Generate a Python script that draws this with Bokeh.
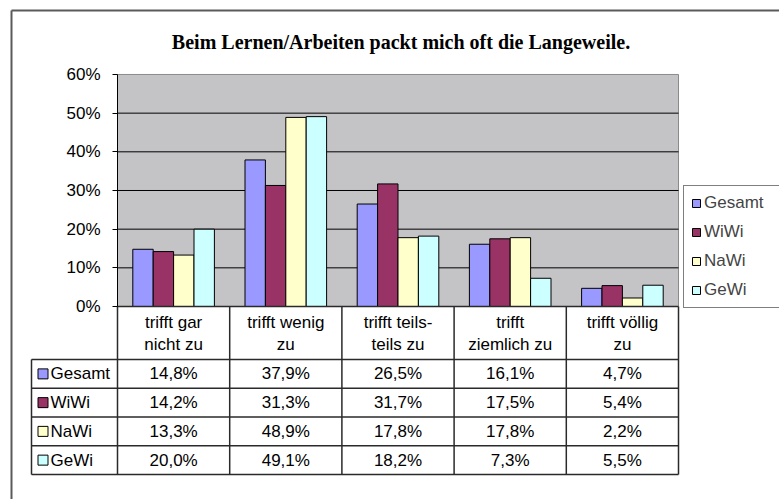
import numpy as np
from bokeh.plotting import figure
from bokeh.models import (Range1d, FixedTicker, PrintfTickFormatter, Label,
                          Legend, LegendItem)
from bokeh.core.properties import value
from bokeh.embed import file_html
from bokeh.resources import INLINE

# ---------------- data ----------------
title_text = "Beim Lernen/Arbeiten packt mich oft die Langeweile."
categories = ["trifft gar\nnicht zu", "trifft wenig\nzu", "trifft teils-\nteils zu",
              "trifft\nziemlich zu", "trifft völlig\nzu"]
series_names = ["Gesamt", "WiWi", "NaWi", "GeWi"]
gesamt = [14.8, 37.9, 26.5, 16.1, 4.7]
wiwi = [14.2, 31.3, 31.7, 17.5, 5.4]
nawi = [13.3, 48.9, 17.8, 17.8, 2.2]
gewi = [20.0, 49.1, 18.2, 7.3, 5.5]
y_ticks = [0, 10, 20, 30, 40, 50, 60]

series_values = [gesamt, wiwi, nawi, gewi]
colors = ["#9999FF", "#993366", "#FFFFCC", "#CCFFFF"]

# ---------------- layout helpers (screen px -> data) ----------------
W, H = 779, 499
PX = 112.2          # px per category
CX0 = 173.1         # screen x of first category centre
PY = 3.867          # px per percent
SY0 = 306.0         # screen y of 0 %


def X(sx):
    return (sx - CX0) / PX


def Y(sy):
    return (SY0 - sy) / PY


FONT = "Liberation Sans"
FS = "17px"
n = len(categories)
idx = np.arange(n)

p = figure(width=W, height=H, x_range=Range1d(X(0), X(W)),
           y_range=Range1d(Y(H), Y(0)),
           output_backend="svg", toolbar_location=None, min_border=0,
           x_axis_location=None, y_axis_location="left",
           outline_line_color=None, background_fill_color="white",
           border_fill_color="white")
p.grid.visible = False

# outer chart frame (top and left edges)
frame_col = "#5a5a5a"
p.segment(x0=[X(11), X(11)], y0=[Y(10), Y(10)], x1=[X(W), X(11)],
          y1=[Y(10), Y(H)], line_color=frame_col, line_width=2)

# plot area
x_lo, x_hi = -0.5, n - 0.5
p.quad(left=x_lo, right=x_hi, bottom=y_ticks[0], top=y_ticks[-1],
       fill_color="#C4C3C6", line_color="#8a8a8a", line_width=1)
p.segment(x0=x_lo, x1=x_hi, y0=y_ticks[1:-1], y1=y_ticks[1:-1],
          line_color="black", line_width=1)

# bars
bar_w = 20.4 / PX
renderers = []
for j, (name, vals) in enumerate(zip(series_names, series_values)):
    r = p.vbar(x=idx + (j - 1.5) * bar_w, top=vals, bottom=0, width=bar_w,
               fill_color=colors[j], line_color="black", line_width=1)
    renderers.append(r)

# y axis
ax = p.yaxis[0]
ax.fixed_location = x_lo
ax.bounds = (y_ticks[0], y_ticks[-1])
ax.ticker = FixedTicker(ticks=y_ticks)
ax.formatter = PrintfTickFormatter(format="%d%%")
ax.major_tick_out = 5
ax.major_tick_in = 0
ax.minor_tick_out = 0
ax.minor_tick_in = 0
ax.axis_line_color = "black"
ax.major_tick_line_color = "black"
ax.major_label_text_font = FONT
ax.major_label_text_font_size = FS
ax.major_label_text_color = "black"
ax.major_label_standoff = 12

# ---------------- data table ----------------
tbl_col = "#2a2a2a"
head_bottom = 359.0
row_h = 28.75
row_edges = [head_bottom + row_h * k for k in range(len(series_names) + 1)]
tbl_left = 31.0
# horizontal lines
p.segment(x0=x_lo, x1=x_hi, y0=0, y1=0, line_color=tbl_col, line_width=1.5)
p.segment(x0=X(tbl_left), x1=x_hi, y0=[Y(e) for e in row_edges],
          y1=[Y(e) for e in row_edges], line_color=tbl_col, line_width=1.5)
# vertical lines
vx = [x_lo + k for k in range(n + 1)]
p.segment(x0=vx, x1=vx, y0=0, y1=Y(row_edges[-1]), line_color=tbl_col, line_width=1.5)
p.segment(x0=X(tbl_left), x1=X(tbl_left), y0=Y(row_edges[0]), y1=Y(row_edges[-1]),
          line_color=tbl_col, line_width=1.5)

# header texts
p.text(x=idx, y=Y((SY0 + head_bottom) / 2 + 0.5), text=categories,
       text_align="center", text_baseline="middle", text_font=value(FONT),
       text_font_size=FS, text_color="black", text_line_height=1.15)

# rows
for k, (name, vals) in enumerate(zip(series_names, series_values)):
    cy = Y(head_bottom + row_h * (k + 0.5))
    p.scatter(x=[X(42.5)], y=[cy], marker="square", size=10,
              fill_color=colors[k], line_color="black", line_width=1)
    p.text(x=[X(50)], y=[cy], text=[name], text_align="left",
           text_baseline="middle", text_font=value(FONT), text_font_size=FS,
           text_color="black")
    labels = [f"{v:.1f}%".replace(".", ",") for v in vals]
    p.text(x=idx, y=[cy] * n, text=labels, text_align="center",
           text_baseline="middle", text_font=value(FONT), text_font_size=FS,
           text_color="black")

# title
p.add_layout(Label(x=X(400.5), y=Y(41), text=title_text, text_align="center",
                   text_baseline="middle", text_font="Liberation Serif",
                   text_font_style="bold", text_font_size="20px",
                   text_color="black"))

# legend
legend = Legend(items=[LegendItem(label=nm, renderers=[r])
                       for nm, r in zip(series_names, renderers)],
                location=(683, H - 308), orientation="vertical",
                glyph_width=10, glyph_height=10, label_text_font=FONT,
                label_text_font_size=FS, label_height=20, label_standoff=3,
                label_width=70, spacing=9, padding=7, margin=0,
                border_line_color="black", border_line_width=1.5,
                background_fill_color="white", background_fill_alpha=1.0)
p.add_layout(legend)

open("out.html", "w").write(file_html(p, INLINE))
